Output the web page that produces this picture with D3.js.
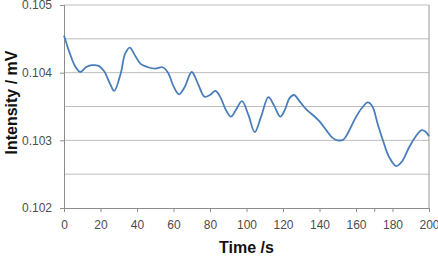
<!DOCTYPE html>
<html>
<head>
<meta charset="utf-8">
<script src="https://cdn.jsdelivr.net/npm/d3@7"></script>
<style>
  body { margin: 0; background: #fff; }
  svg { display: block; }
  text { font-family: "Liberation Sans", Arial, sans-serif; }
</style>
</head>
<body>
<svg id="chart" width="438" height="260"></svg>
<script>
// ---- data ----
const times = [0, 3, 6, 9, 12, 15, 19, 22, 25, 27.5, 31, 33.5, 36, 39, 42, 46, 50, 54, 57, 60, 63, 66, 70, 73.5, 77, 80, 83, 86, 88.5, 91.5, 94, 97.5, 101, 104.5, 108, 112, 115, 118.5, 121, 123.5, 126, 129, 133, 137, 140, 144, 147, 150, 153, 156, 159.5, 163, 166.5, 169, 172, 175, 178, 182, 185, 189, 192.5, 196, 198, 200];
const intensity = [0.10455, 0.10430, 0.10410, 0.10401, 0.10408, 0.10411, 0.10410, 0.10402, 0.10385, 0.10373, 0.10398, 0.10428, 0.10437, 0.10425, 0.10413, 0.10408, 0.10406, 0.10408, 0.10400, 0.10380, 0.10368, 0.10378, 0.10401, 0.10383, 0.103645, 0.10367, 0.10373, 0.10362, 0.10346, 0.10335, 0.10344, 0.10358, 0.10338, 0.10312, 0.10335, 0.10364, 0.10352, 0.10335, 0.10345, 0.10362, 0.10367, 0.10358, 0.10345, 0.10336, 0.10328, 0.10314, 0.10304, 0.10300, 0.10301, 0.10313, 0.10332, 0.10347, 0.10356, 0.10350, 0.10323, 0.10298, 0.10276, 0.10262, 0.10268, 0.10289, 0.10305, 0.10315, 0.10313, 0.10306];
const xTicks = [0, 20, 40, 60, 80, 100, 120, 140, 160, 180, 200];
const xExtraTickMarks = [170];
const yTicks = [0.102, 0.103, 0.104, 0.105];
const yGrid = [0.1025, 0.103, 0.1035, 0.104, 0.1045, 0.105];
const xTitle = "Time /s";
const yTitle = "Intensity / mV";

// ---- layout ----
const svg = d3.select("#chart");
const mLeft = 64, mRight = 429, mTop = 5, mBottom = 208;
const x = d3.scaleLinear().domain([0, 200]).range([mLeft, mRight]);
const y = d3.scaleLinear().domain([0.102, 0.105]).range([mBottom, mTop]);

// gridlines
svg.append("g").selectAll("line").data(yGrid).join("line")
  .attr("x1", mLeft).attr("x2", mRight)
  .attr("y1", d => y(d)).attr("y2", d => y(d))
  .attr("stroke", "#bdbdbd").attr("stroke-width", 1);

// right border
svg.append("line").attr("x1", mRight).attr("x2", mRight).attr("y1", mTop).attr("y2", mBottom)
  .attr("stroke", "#9a9a9a").attr("stroke-width", 1);

// x axis
const xAxis = svg.append("g").attr("transform", `translate(0,${mBottom})`)
  .call(d3.axisBottom(x).tickValues(xTicks).tickFormat(d3.format("d")).tickSize(4).tickPadding(8));
svg.append("g").attr("transform", `translate(0,${mBottom})`)
  .call(d3.axisBottom(x).tickValues(xExtraTickMarks).tickFormat("").tickSize(4))
  .call(g => g.select(".domain").remove())
  .call(g => g.selectAll("line").attr("stroke", "#8c8c8c"));

// y axis
const yAxis = svg.append("g").attr("transform", `translate(${mLeft},0)`)
  .call(d3.axisLeft(y).tickValues(yTicks).tickFormat(d3.format(".3f")).tickSize(4).tickPadding(8));

[xAxis, yAxis].forEach(g => {
  g.select(".domain").attr("stroke", "#8c8c8c");
  g.selectAll(".tick line").attr("stroke", "#8c8c8c");
  g.selectAll(".tick text").attr("fill", "#4d4d4d")
    .style("font-family", "'Liberation Sans', Arial, sans-serif").style("font-size", "12px");
});

// line
const pts = times.map((t, i) => [t, intensity[i]]);
svg.append("path").datum(pts)
  .attr("fill", "none").attr("stroke", "#4a7ebb").attr("stroke-width", 1.8)
  .attr("d", d3.line().x(d => x(d[0])).y(d => y(d[1])).curve(d3.curveCatmullRom.alpha(0.5)));

// titles
svg.append("text").attr("x", (mLeft + mRight) / 2).attr("y", 253)
  .attr("text-anchor", "middle").style("font-weight", "bold").style("font-size", "16px")
  .attr("fill", "#111").text(xTitle);
svg.append("text").attr("transform", `translate(17,${(mTop + mBottom) / 2 - 4}) rotate(-90)`)
  .attr("text-anchor", "middle").style("font-weight", "bold").style("font-size", "16px")
  .attr("fill", "#111").text(yTitle);
</script>
</body>
</html>
